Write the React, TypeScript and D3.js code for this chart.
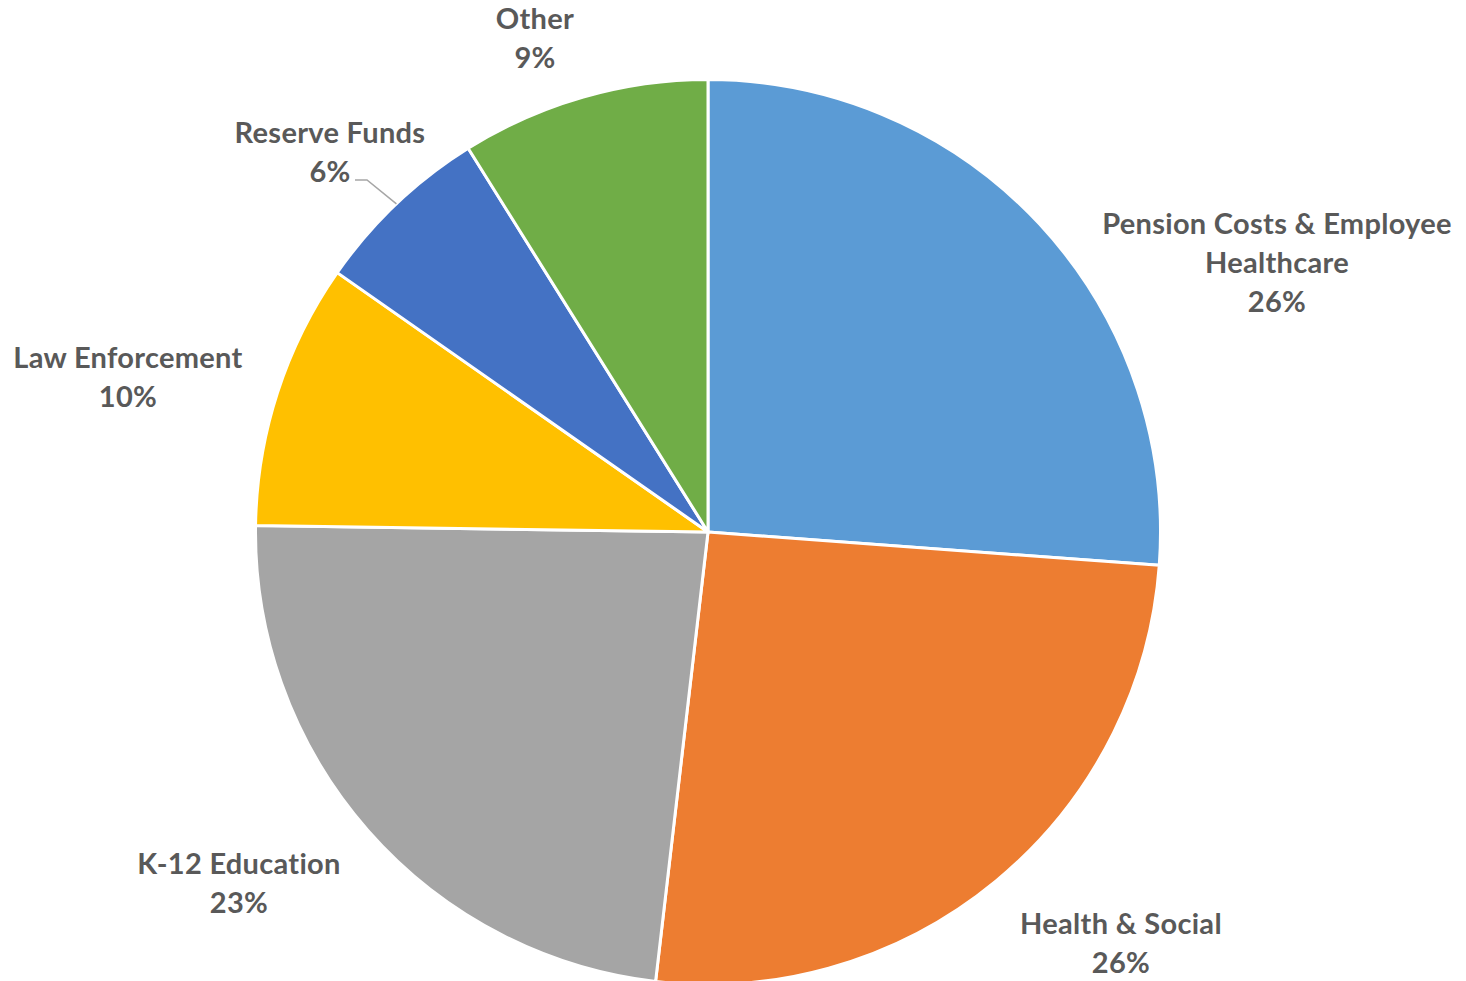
import React from "react";
import * as d3 from "d3";

const categories = ["Pension Costs & Employee Healthcare", "Health & Social", "K-12 Education", "Law Enforcement", "Reserve Funds", "Other"];
const values = [26.2, 25.7, 23.4, 9.5, 6.4, 8.9];
const percentLabels = ["26%", "26%", "23%", "10%", "6%", "9%"];
const labelLines = [["Pension Costs & Employee", "Healthcare"], ["Health & Social"], ["K-12 Education"], ["Law Enforcement"], ["Reserve Funds"], ["Other"]];
const colors = ["#5B9BD5", "#ED7D31", "#A5A5A5", "#FFC000", "#4472C4", "#70AD47"];
// label anchor (center x, first-line center y)
const labelPos: [number, number][] = [[1277, 222], [1121, 922], [239, 862], [128, 356], [330, 131], [535, 17]];

const W = 1466, H = 981;
const cx = 708, cy = 532, R = 452.5;
const lineH = 39;

export default function App() {
  const pie = d3.pie<number>().sort(null).value((d) => d);
  const arcs = pie(values);
  const arcGen = d3.arc<d3.PieArcDatum<number>>().innerRadius(0).outerRadius(R);

  // leader line for Reserve Funds
  const ri = 4;
  const mid = (arcs[ri].startAngle + arcs[ri].endAngle) / 2;
  const ex = cx + R * Math.sin(mid);
  const ey = cy - R * Math.cos(mid);
  const [lx, ly] = labelPos[ri];
  const leaderStartX = lx + 25;
  const leaderY = ly + lineH + 10;

  return (
    <svg width={W} height={H} style={{ position: "absolute", left: 0, top: 0, background: "#fff" }}>
      <g transform={`translate(${cx},${cy})`}>
        {arcs.map((a, i) => (
          <path key={i} d={arcGen(a) || ""} fill={colors[i]} stroke="#fff" strokeWidth={3} strokeLinejoin="round" />
        ))}
      </g>
      <polyline
        points={`${leaderStartX},${leaderY} ${leaderStartX + 12},${leaderY} ${ex},${ey}`}
        fill="none"
        stroke="#A6A6A6"
        strokeWidth={1.5}
      />
      {categories.map((c, i) => {
        const [x, y] = labelPos[i];
        const lines = [...labelLines[i], percentLabels[i]];
        return (
          <text key={c} x={x} y={y} textAnchor="middle" dominantBaseline="central" fill="#595959"
            fontFamily="Lato, 'Open Sans', sans-serif" fontWeight={700} fontSize={29} letterSpacing={0.3}>
            {lines.map((l, j) => (
              <tspan key={j} x={x} y={y + j * lineH} dominantBaseline="central">{l}</tspan>
            ))}
          </text>
        );
      })}
    </svg>
  );
}
